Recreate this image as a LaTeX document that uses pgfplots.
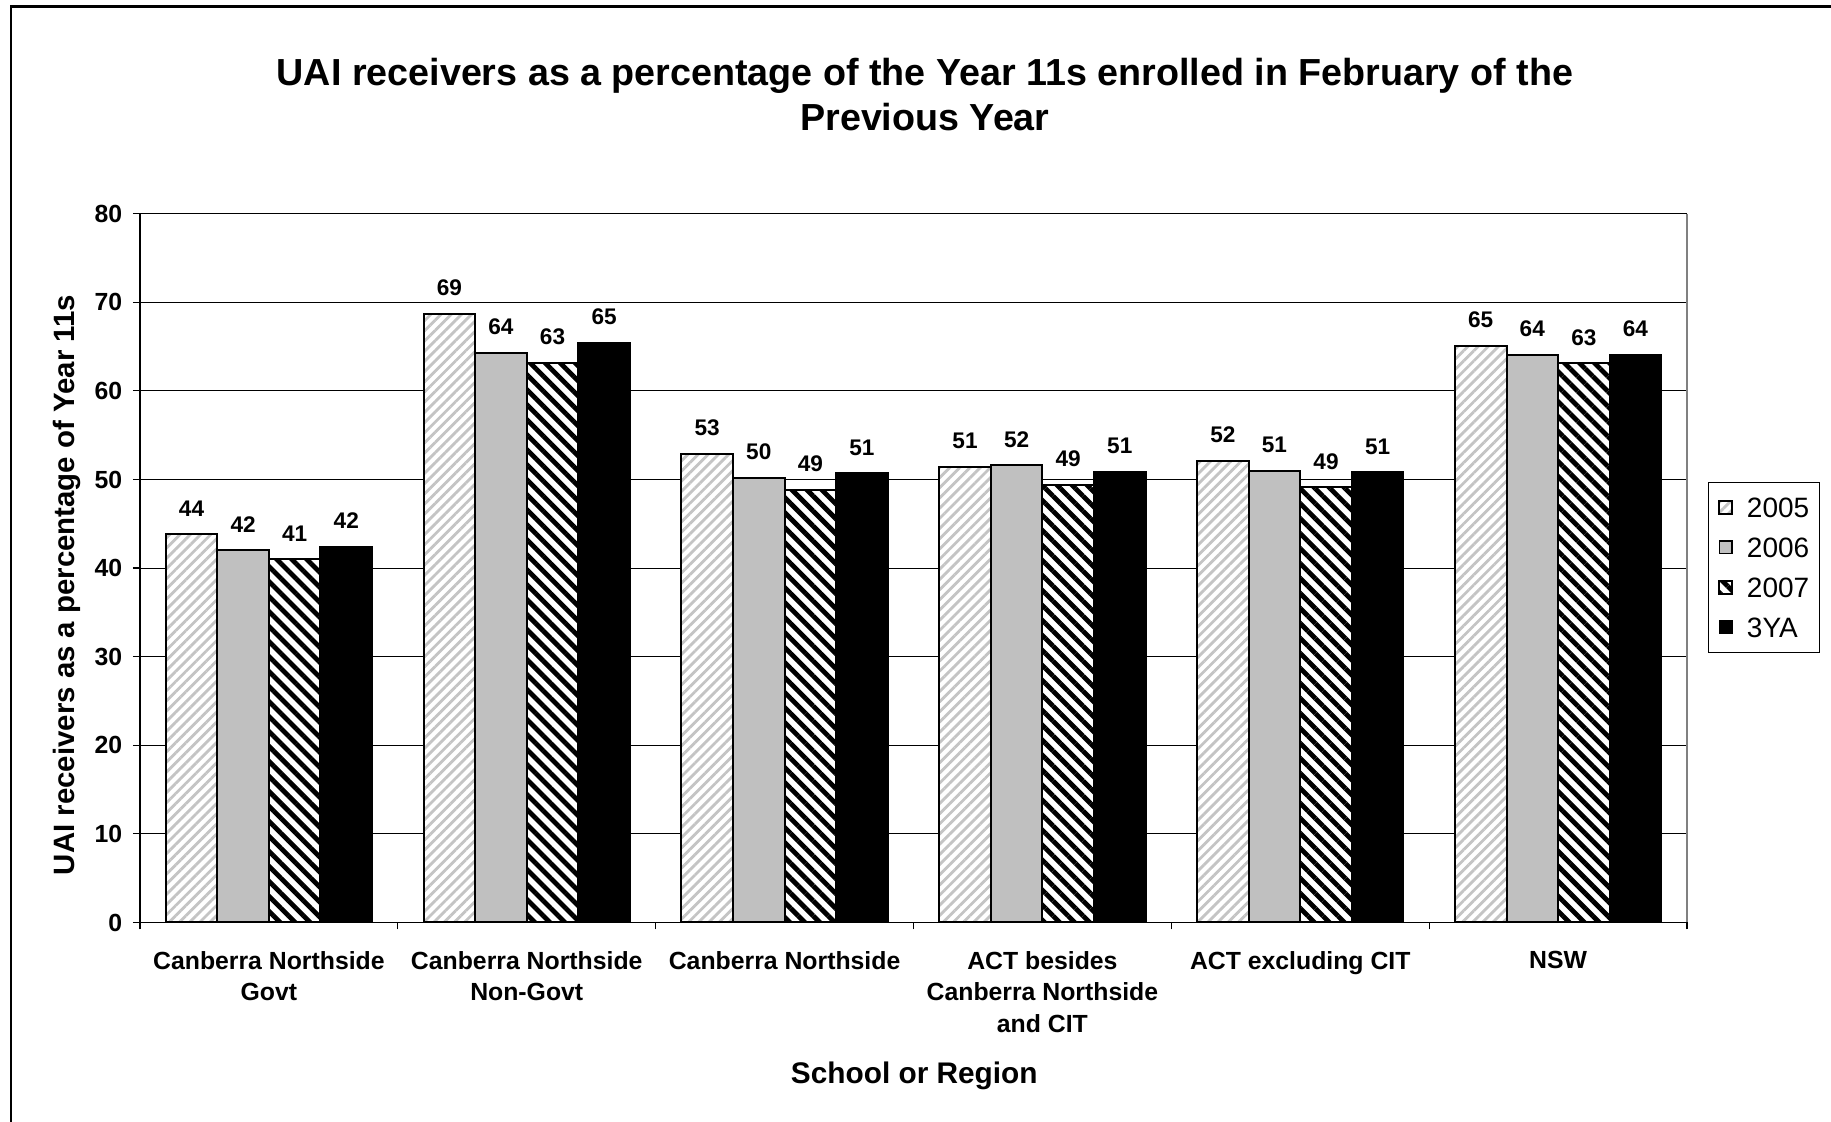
\documentclass[border=0pt]{standalone}
\usepackage{fontspec}
\setmainfont{Liberation Sans}
\usepackage{pgfplots}
\pgfplotsset{compat=1.18}
\usetikzlibrary{patterns.meta}

\definecolor{barGray}{RGB}{192,192,192}
\definecolor{stripeGray}{RGB}{196,196,196}

\pgfplotsset{
  sq legend/.style={legend image code/.code={%
      \draw[##1, line width=0.8pt] (0pt,-3.1pt) rectangle (6.2pt,3.1pt);}},
}

\begin{document}
\begin{tikzpicture}
\begin{axis}[
  at={(0,0)}, anchor=south west,
  scale only axis, width=773.5pt, height=354.4pt,
  ybar=0pt, bar width=0.2,
  xmin=-0.5, xmax=5.5, ymin=0, ymax=80,
  ytick={0,10,...,80},
  xtick={0,...,5},
  xticklabels={{Canberra Northside\\Govt},{Canberra Northside\\Non-Govt},{Canberra Northside},{ACT besides\\Canberra Northside\\and CIT},{ACT excluding CIT},{NSW}},
  minor xtick={-0.5,0.5,...,5.5},
  axis x line*=bottom, axis y line*=left,
  axis line style={black, line width=0.6pt},
  ymajorgrids, grid style={black, line width=0.5pt},
  tick align=outside, major tick length=3.5pt, minor tick length=3.5pt,
  tick style={black, line width=0.6pt},
  major x tick style={draw=none},
  /pgf/number format/fixed, /pgf/number format/precision=0,
  /pgf/number format/assume math mode=true,
  tick label style={font=\fontsize{12.4}{15.75}\selectfont\bfseries},
  xticklabel style={align=center, anchor=north, inner sep=0pt, yshift=-10.8pt},
  yticklabel style={anchor=east, inner sep=0pt, xshift=-5.2pt},
  title={UAI receivers as a percentage of the Year 11s enrolled in February of the\\Previous Year},
  title style={at={(0.5074,1.1515)}, anchor=center, align=center,
    font=\fontsize{18.84}{22.5}\selectfont\bfseries},
  xlabel={School or Region},
  xlabel style={at={(axis description cs:0.5005,-0.2161)}, anchor=center,
    font=\fontsize{14.9}{17}\selectfont\bfseries},
  ylabel={UAI receivers as a percentage of Year 11s},
  ylabel style={at={(axis description cs:-0.0475,0.4762)}, anchor=center,
    font=\fontsize{14.7}{17}\selectfont\bfseries},
  nodes near coords,
  every node near coord/.append style={font=\fontsize{11.3}{13}\selectfont\bfseries,
    inner sep=0pt, anchor=south, yshift=8.5pt, text=black},
  legend style={at={(1.0136,0.6215)}, anchor=north west, draw=black, line width=0.5pt,
    font=\fontsize{14}{16}\selectfont, inner xsep=5pt, inner ysep=7.5pt, row sep=10pt,
    nodes={inner sep=0pt, text height=10pt, text depth=0pt},
    /tikz/every odd column/.append style={column sep=7.2pt}},
  legend cell align=left,
  after end axis/.code={
    \draw[black, line width=0.6pt] (rel axis cs:0,1) -- (rel axis cs:1,1);
    \draw[gray, line width=0.6pt] (rel axis cs:1,1) -- (rel axis cs:1,0);
  },
]
% 2005
\addplot[sq legend, draw=black, line width=1pt, preaction={fill=white},
  pattern={Lines[angle=45,distance=3.6pt,line width=1.4pt]}, pattern color=stripeGray]
  coordinates {(0,43.8) (1,68.7) (2,52.9) (3,51.4) (4,52.1) (5,65.1)};
% 2006
\addplot[sq legend, draw=black, line width=1pt, fill=barGray]
  coordinates {(0,42.0) (1,64.3) (2,50.2) (3,51.6) (4,50.95) (5,64.05)};
% 2007
\addplot[sq legend, draw=black, line width=1pt, preaction={fill=white},
  pattern={Lines[angle=-45,distance=5.3pt,line width=2.4pt]}, pattern color=black]
  coordinates {(0,41.0) (1,63.2) (2,48.8) (3,49.4) (4,49.1) (5,63.1)};
% 3YA
\addplot[sq legend, draw=black, line width=1pt, fill=black]
  coordinates {(0,42.4) (1,65.4) (2,50.7) (3,50.9) (4,50.8) (5,64.1)};
\legend{2005,2006,2007,3YA}
\end{axis}
% chart area frame
\draw[black, line width=1.2pt] (-64.5pt,-99.75pt) -- (-64.5pt,457.9pt) -- (845.5pt,457.9pt);
\pgfresetboundingbox
\path[use as bounding box] (-70pt,-99.75pt) rectangle (845.5pt,461.25pt);
\end{tikzpicture}
\end{document}
